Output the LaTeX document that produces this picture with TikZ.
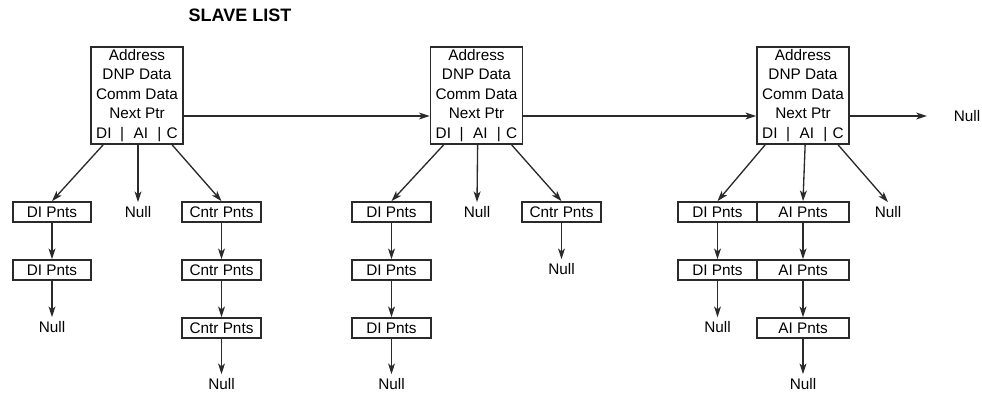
\documentclass[tikz,border=0pt]{standalone}
\usepackage{fontspec}
\setmainfont{Liberation Sans}
\usetikzlibrary{arrows.meta, calc}
\definecolor{linegray}{HTML}{2A2A2A}
\tikzset{
    box/.style={rectangle, draw=linegray, line width=1.3pt, fill=white, align=center, inner sep=0pt, font=\fontsize{11.5}{14.6}\selectfont},
    slavebox/.style={box, minimum width=69pt, minimum height=72.75pt},
    pntsbox/.style={box, minimum width=59pt, minimum height=15pt},
    widebox/.style={box, minimum width=69pt, minimum height=15pt},
    nulltext/.style={inner sep=3pt, font=\fontsize{11.5}{14.6}\selectfont},
    arrow/.style={-{Stealth[length=8pt, width=5.2pt, inset=2.2pt]}, line width=1pt, draw=linegray}
}
\newcommand{\slavetext}{Address\\DNP Data\\Comm Data\\Next Ptr\\DI\hspace{6.5pt}|\hspace{7pt}AI\hspace{7pt}|\hspace{4pt}C}

\begin{document}
\begin{tikzpicture}[x=0.75pt, y=-0.75pt]
    \useasboundingbox (0,0) rectangle (982,393);
    \node[font=\bfseries\fontsize{13.5}{16}\selectfont] (title) at (240,15) {SLAVE LIST};
    % slave list
    \node[slavebox] (s1) at (137,95.5) {\slavetext};
    \node[slavebox] (s2) at (476.5,95.5) {\slavetext};
    \node[slavebox] (s3) at (803,95.5) {\slavetext};
    \node[nulltext] (n0) at (967,116) {Null};
    \draw[arrow] ($(s1.east)+(0,20.5)$) -- ($(s2.west)+(0,20.5)$);
    \draw[arrow] ($(s2.east)+(0,20.5)$) -- ($(s3.west)+(0,20.5)$);
    \draw[arrow, shorten >=17pt] ($(s3.east)+(0,20.5)$) -- (n0.west);
    % first slave
    \foreach \i/\y in {1/212,2/270} \node[pntsbox] (d1\i) at (52,\y) {DI Pnts};
    \foreach \i/\y in {1/212,2/270,3/328} \node[pntsbox] (c1\i) at (221.5,\y) {Cntr Pnts};
    \node[nulltext] (n11) at (52,327) {Null};
    \node[nulltext] (n12) at (138,212) {Null};
    \node[nulltext] (n13) at (221.5,384) {Null};
    \draw[arrow] ($(s1.south west)+(13,0)$) -- (d11.north);
    \draw[arrow] (n12.north |- s1.south) -- (n12.north);
    \draw[arrow] ($(s1.south west)+(82,0)$) -- (c11.north);
    \draw[arrow] (d11) -- (d12);
    \draw[arrow] (d12) -- (n11);
    \draw[arrow] (c11) -- (c12);
    \draw[arrow] (c12) -- (c13);
    \draw[arrow] (c13) -- (n13);
    % second slave
    \foreach \i/\y in {1/212,2/270,3/328} \node[pntsbox] (d2\i) at (391.5,\y) {DI Pnts};
    \node[pntsbox] (c21) at (561.5,212) {Cntr Pnts};
    \node[nulltext] (n21) at (391.5,384) {Null};
    \node[nulltext] (n22) at (477,212) {Null};
    \node[nulltext] (n23) at (561.5,269) {Null};
    \draw[arrow] ($(s2.south west)+(14,0)$) -- (d21.north);
    \draw[arrow] ($(s2.south west)+(48,0)$) -- (n22.north);
    \draw[arrow] ($(s2.south west)+(82,0)$) -- (c21.north);
    \draw[arrow] (d21) -- (d22);
    \draw[arrow] (d22) -- (d23);
    \draw[arrow] (d23) -- (n21);
    \draw[arrow] (c21) -- (n23);
    % third slave
    \foreach \i/\y in {1/212,2/270} \node[pntsbox] (d3\i) at (717.5,\y) {DI Pnts};
    \foreach \i/\y in {1/212,2/270,3/328} \node[widebox] (a3\i) at (803,\y) {AI Pnts};
    \node[nulltext] (n31) at (717.5,327) {Null};
    \node[nulltext] (n32) at (803,384) {Null};
    \node[nulltext] (n33) at (888,212) {Null};
    \draw[arrow] ($(s3.south west)+(9,0)$) -- (d31.north);
    \draw[arrow] ($(s3.south west)+(49,0)$) -- (a31.north);
    \draw[arrow] ($(s3.south west)+(82,0)$) -- (n33.north);
    \draw[arrow] (d31) -- (d32);
    \draw[arrow] (d32) -- (n31);
    \draw[arrow] (a31) -- (a32);
    \draw[arrow] (a32) -- (a33);
    \draw[arrow] (a33) -- (n32);
\end{tikzpicture}
\end{document}
